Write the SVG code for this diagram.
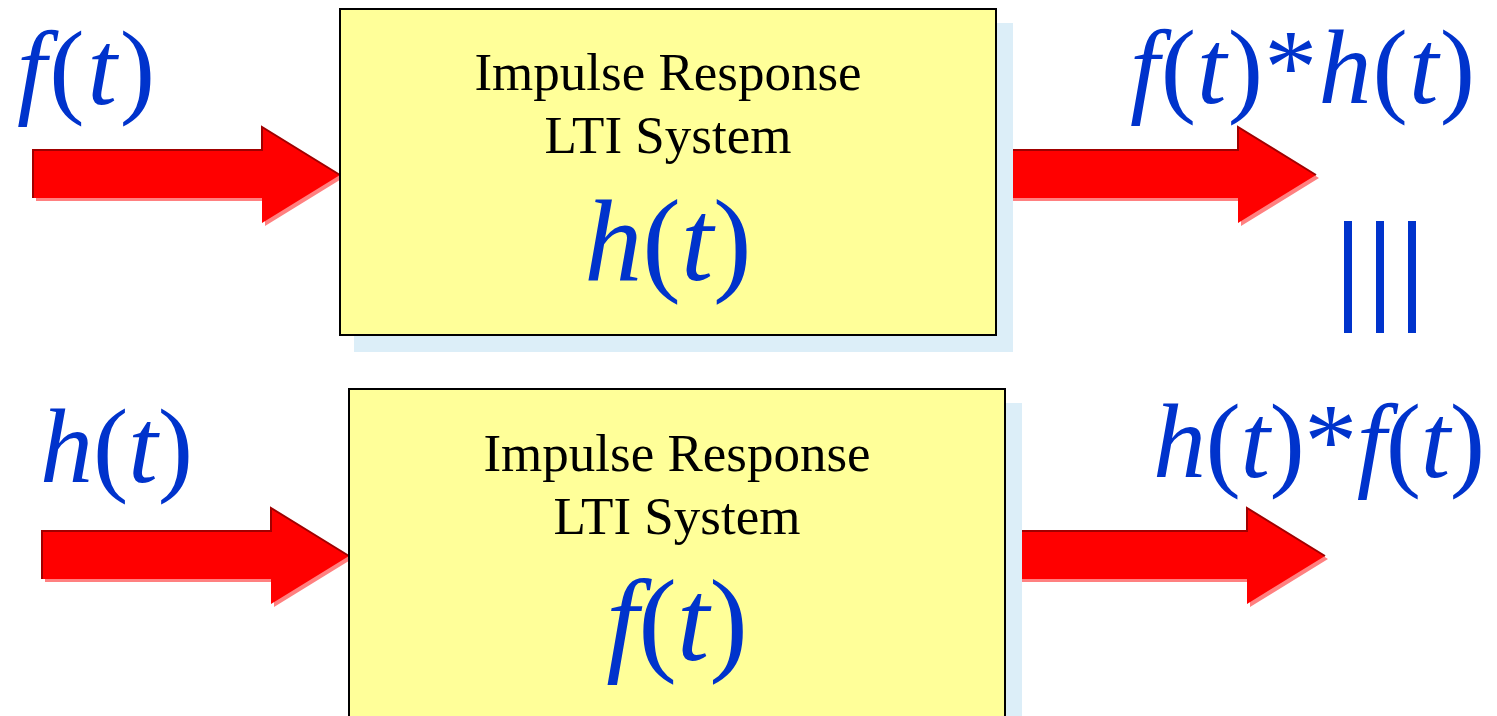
<svg xmlns="http://www.w3.org/2000/svg" width="1497" height="716" viewBox="0 0 1497 716">
<defs>
<style>
.box{fill:#FFFF99;stroke:#000;stroke-width:2}
.shadow{fill:#DCEEF8}
.txt{font-family:"Liberation Serif","Times New Roman",serif;font-size:53px;fill:#000;text-anchor:middle}
.math{font-family:"Liberation Serif","Times New Roman",serif;fill:#0033CC}
.it{font-style:italic}
.arrow{fill:#FF0000}
.ashadow{fill:#FF8080}
.aedge{fill:none;stroke:#A00000;stroke-width:2;stroke-linejoin:miter}
.bar{fill:#0033CC}
</style>
<polygon id="arrowShape" points="0,0 229,0 229,-23 307,25 229,73 229,48 0,48"/>
</defs>
<g id="connectors">
  <g id="arrow-in-top" transform="translate(33,150)">
    <use href="#arrowShape" class="ashadow" x="3" y="3"/>
    <use href="#arrowShape" class="arrow"/>
    <path class="aedge" d="M0,48 L0,0 L229,0 L229,-23 L307,25"/>
  </g>
  <g id="arrow-out-top" transform="translate(1009,150)">
    <use href="#arrowShape" class="ashadow" x="3" y="3"/>
    <use href="#arrowShape" class="arrow"/>
    <path class="aedge" d="M0,48 L0,0 L229,0 L229,-23 L307,25"/>
  </g>
  <g id="arrow-in-bottom" transform="translate(42,531)">
    <use href="#arrowShape" class="ashadow" x="3" y="3"/>
    <use href="#arrowShape" class="arrow"/>
    <path class="aedge" d="M0,48 L0,0 L229,0 L229,-23 L307,25"/>
  </g>
  <g id="arrow-out-bottom" transform="translate(1018,531)">
    <use href="#arrowShape" class="ashadow" x="3" y="3"/>
    <use href="#arrowShape" class="arrow"/>
    <path class="aedge" d="M0,48 L0,0 L229,0 L229,-23 L307,25"/>
  </g>
</g>
<g id="node-top">
  <rect class="shadow" x="354" y="23" width="659" height="329"/>
  <rect class="box" x="340" y="9" width="656" height="326"/>
  <text class="txt" x="668" y="90">Impulse Response</text>
  <text class="txt" x="668" y="153">LTI System</text>
  <text class="math" font-family="Liberation Serif, serif" x="668" y="280" font-size="116" text-anchor="middle"><tspan class="it">h</tspan>(<tspan class="it">t</tspan>)</text>
</g>
<g id="node-bottom">
  <rect class="shadow" x="363" y="403" width="659" height="329"/>
  <rect class="box" x="349" y="389" width="656" height="340"/>
  <text class="txt" x="677" y="471">Impulse Response</text>
  <text class="txt" x="677" y="534">LTI System</text>
  <text class="math" font-family="Liberation Serif, serif" x="677" y="660" font-size="116" text-anchor="middle"><tspan class="it">f</tspan>(<tspan class="it">t</tspan>)</text>
</g>
<g id="label-ft">
  <text class="math" font-family="Liberation Serif, serif" x="17" y="104" font-size="106" textLength="138"><tspan class="it">f</tspan>(<tspan class="it">t</tspan>)</text>
</g>
<g id="label-ht">
  <text class="math" font-family="Liberation Serif, serif" x="40" y="482" font-size="106"><tspan class="it">h</tspan>(<tspan class="it">t</tspan>)</text>
</g>
<g id="label-fh">
  <text class="math" font-family="Liberation Serif, serif" x="1130" y="103" font-size="106" textLength="345"><tspan class="it">f</tspan>(<tspan class="it">t</tspan>)*<tspan class="it">h</tspan>(<tspan class="it">t</tspan>)</text>
</g>
<g id="label-hf">
  <text class="math" font-family="Liberation Serif, serif" x="1153" y="477" font-size="106" textLength="332"><tspan class="it">h</tspan>(<tspan class="it">t</tspan>)*<tspan class="it">f</tspan>(<tspan class="it">t</tspan>)</text>
</g>
<g id="equiv">
  <rect class="bar" x="1344" y="221" width="8" height="112"/>
  <rect class="bar" x="1376" y="221" width="8" height="112"/>
  <rect class="bar" x="1408" y="221" width="8" height="112"/>
</g>
</svg>
